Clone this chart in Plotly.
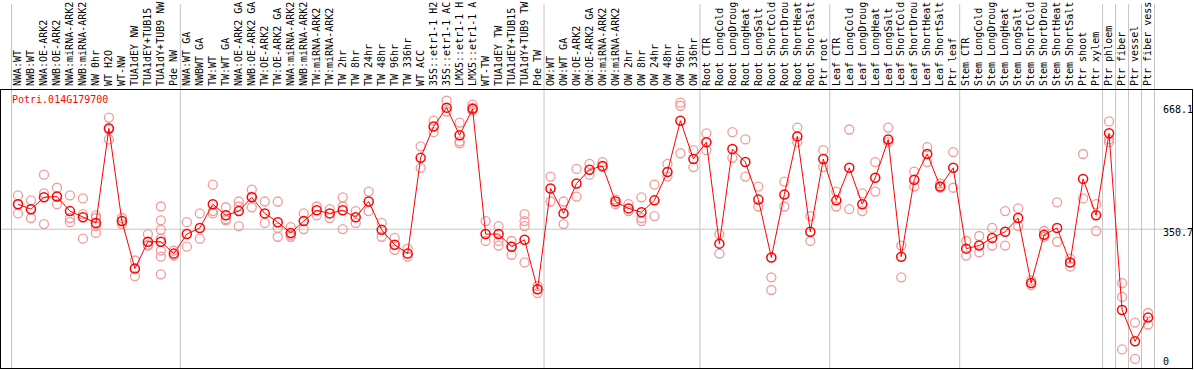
import plotly.graph_objects as go

gene = "Potri.014G179700"

categories = [
    "NWA:WT", "NWB:WT", "NWA:OE-ARK2", "NWB:OE-ARK2", "NWA:miRNA-ARK2", "NWB:miRNA-ARK2",
    "NW 0hr", "WT H2O", "WT-NW", "TUA1dEY NW", "TUA1dEY+TUB15 ", "TUA1dY+TUB9 NW", "Pde NW",
    "NWA:WT GA", "NWBWT GA", "TW:WT", "TW:WT GA", "NWA:OE-ARK2 GA", "NWB:OE-ARK2 GA",
    "TW:OE-ARK2", "TW:OE-ARK2 GA", "NWA:miRNA-ARK2", "NWB:miRNA-ARK2", "TW:miRNA-ARK2",
    "TW:miRNA-ARK2", "TW 2hr", "TW 8hr", "TW 24hr", "TW 48hr", "TW 96hr", "TW 336hr",
    "WT ACC", "35S::etr1-1 H2", "35S::etr1-1 AC", "LMX5::etr1-1 H", "LMX5::etr1-1 A",
    "WT-TW", "TUA1dEY TW", "TUA1dEY+TUB15 ", "TUA1dY+TUB9 TW", "Pde TW",
    "OW:WT", "OW:WT GA", "OW:OE-ARK2", "OW:OE-ARK2 GA", "OW:miRNA-ARK2", "OW:miRNA-ARK2",
    "OW 2hr", "OW 8hr", "OW 24hr", "OW 48hr", "OW 96hr", "OW 336hr",
    "Root CTR", "Root LongCold", "Root LongDroug", "Root LongHeat", "Root LongSalt",
    "Root ShortCold", "Root ShortDrou", "Root ShortHeat", "Root ShortSalt", "Ptr root",
    "Leaf CTR", "Leaf LongCold", "Leaf LongDroug", "Leaf LongHeat", "Leaf LongSalt",
    "Leaf ShortCold", "Leaf ShortDrou", "Leaf ShortHeat", "Leaf ShortSalt", "Ptr leaf",
    "Stem CTR", "Stem LongCold", "Stem LongDroug", "Stem LongHeat", "Stem LongSalt",
    "Stem ShortCold", "Stem ShortDrou", "Stem ShortHeat", "Stem ShortSalt",
    "Ptr shoot", "Ptr xylem", "Ptr phloem", "Ptr fiber", "Ptr vessel", "Ptr fiber vess",
]

mean_values = [
    416, 403, 434, 436, 398, 382, 367, 614, 372, 248, 318, 318, 287,
    338, 354, 416, 387, 398, 434, 392, 369, 341, 372, 400, 392, 400, 382, 423, 349, 310, 287,
    537, 619, 668, 596, 665, 338, 338, 305, 323, 194,
    457, 392, 470, 506, 516, 423, 405, 395, 426, 500, 634, 534,
    578, 313, 560, 526, 428, 277, 441, 593, 344, 534,
    426, 511, 416, 485, 585, 279, 480, 547, 462, 511,
    300, 308, 328, 344, 380, 210, 336, 354, 264, 482,
    387, 601, 140, 58, 120,
]

replicate_values = [
    [439, 392, 416], [426, 380, 403], [493, 444, 364], [459, 416, 436], [439, 380, 369],
    [431, 326, 390], [387, 380, 359, 341], [642, 585, 611], [380, 372, 364], [269, 228],
    [338, 308, 310], [410, 374, 349, 326, 295, 279, 233], [295, 282],
    [369, 305], [392, 326], [467, 392, 398], [408, 377, 374], [423, 359, 410],
    [454, 408, 436], [423, 367], [423, 331, 354], [356, 331, 336], [392, 351],
    [410, 387], [403, 380], [410, 351, 434], [398, 367], [449, 398], [367, 331],
    [328, 297], [300, 279],
    [567, 511], [634, 604], [686, 658], [629, 580, 575], [676, 668, 660],
    [372, 320], [320, 308, 359], [320, 305, 284], [390, 372, 359, 264], [202, 184],
    [488, 423], [423, 364], [508, 436], [521, 493], [526, 513], [428, 416],
    [416, 398], [434, 380, 372], [467, 385], [521, 488], [681, 673, 549], [557, 513],
    [601, 557], [338, 287], [604, 537], [585, 488], [462, 410], [225, 192],
    [475, 410], [616, 578], [385, 320], [557, 513],
    [449, 410], [611, 403], [444, 398], [526, 449], [616, 578], [308, 225],
    [501, 462], [565, 526], [470, 459], [552, 459],
    [320, 282], [333, 290], [354, 308], [398, 308], [405, 359], [217, 205],
    [346, 331], [421, 318], [274, 253], [547, 431],
    [416, 346], [632, 585, 578], [210, 174, 37], [107, 12], [132, 102],
]

axis_ticks = [0, 350.7, 668.1]
axis_ticktext = ["0", "350.7", "668.1"]
group_breaks = [-0.5, 12.5, 40.5, 52.5, 62.5, 72.5, 83.5, 84.5, 85.5, 86.5, 87.5]

W, H = 1194, 370
ML, MR, MT, MB = 1, 1, 87, 1
FONT = "DejaVu Sans Mono"

idx = list(range(len(categories)))
rep_x, rep_y = [], []
for i, reps in enumerate(replicate_values):
    for v in reps:
        rep_x.append(i)
        rep_y.append(v)

fig = go.Figure()
fig.add_trace(go.Scatter(
    x=rep_x, y=rep_y, mode="markers", hoverinfo="skip",
    marker=dict(symbol="circle-open", size=9, color="rgba(240,150,150,0.95)",
                line=dict(width=1.3, color="rgba(240,150,150,0.95)")),
    showlegend=False,
))
fig.add_trace(go.Scatter(
    x=idx, y=mean_values, mode="lines+markers",
    line=dict(color="#ff0000", width=1),
    marker=dict(symbol="circle-open", size=9, color="#ff0000",
                line=dict(width=1.5, color="#ff0000")),
    showlegend=False,
))

plot_w = W - ML - MR
plot_h = H - MT - MB
top_paper = 1 + MT / plot_h
for b in group_breaks:
    fig.add_shape(type="line", xref="x", yref="paper", x0=b, x1=b, y0=0, y1=top_paper,
                  line=dict(color="#c4c4c4", width=1), layer="below")
fig.add_shape(type="line", xref="paper", yref="y", x0=0, x1=1, y0=axis_ticks[1], y1=axis_ticks[1],
              line=dict(color="#c4c4c4", width=1), layer="below")

fig.add_annotation(text=gene, xref="paper", yref="paper", x=9 / plot_w, y=(plot_h - 10) / plot_h,
                   xanchor="left", yanchor="middle", showarrow=False,
                   font=dict(family=FONT, size=10, color="#ff0000"))

label_shift = [2, -3, -2]
for v, t, s in zip(axis_ticks, axis_ticktext, label_shift):
    fig.add_annotation(text=t, xref="paper", yref="y", x=(1162 - ML) / plot_w, y=v,
                       xanchor="left", yanchor="middle", yshift=s, showarrow=False,
                       font=dict(family=FONT, size=10, color="black"))

fig.update_layout(
    width=W, height=H, margin=dict(l=ML, r=MR, t=MT, b=MB),
    paper_bgcolor="white", plot_bgcolor="white",
    xaxis=dict(side="top", range=[-1.3077, 90.385], tickmode="array", tickvals=idx,
               ticktext=categories, tickangle=-90, ticks="", showgrid=False, zeroline=False,
               showline=True, linecolor="black", linewidth=1, mirror=True,
               tickfont=dict(family=FONT, size=10, color="black"), ticklabelstandoff=1),
    yaxis=dict(range=[-11.58, 714.1], tickmode="array", tickvals=axis_ticks,
               showticklabels=False, ticks="", showgrid=False,
               zeroline=False, showline=True, linecolor="black", linewidth=1, mirror=True),
)

fig.write_html("out.html", config={"displayModeBar": False},
               post_script="document.body.style.margin='0';document.body.style.overflow='hidden';")
